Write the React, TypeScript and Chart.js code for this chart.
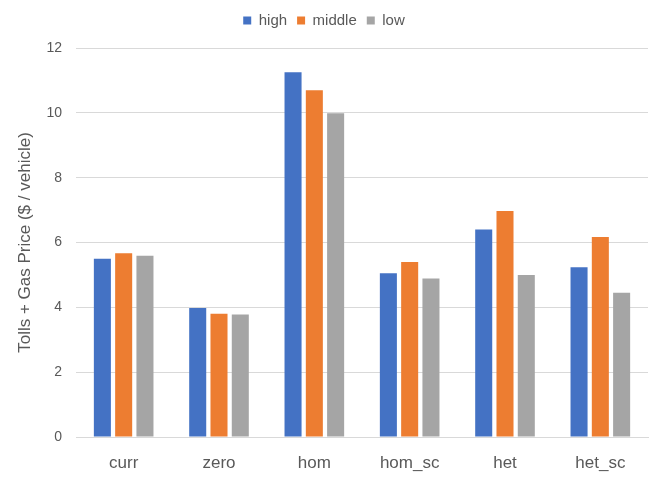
import { useEffect, useRef } from "react";
import { Chart, registerables } from "chart.js";

Chart.register(...registerables);

const categories = ["curr", "zero", "hom", "hom_sc", "het", "het_sc"];
const highValues = [5.5, 3.98, 11.25, 5.05, 6.4, 5.24];
const middleValues = [5.67, 3.8, 10.7, 5.4, 6.97, 6.17];
const lowValues = [5.59, 3.78, 9.99, 4.89, 5.0, 4.45];
const yTicks = [0, 2, 4, 6, 8, 10, 12];

const FONT = "'Liberation Sans', Arial, sans-serif";

// adds some room under the legend
const legendMargin = {
    id: "legendMargin",
    beforeInit(chart: any) {
        const origFit = chart.legend.fit;
        chart.legend.fit = function () {
            origFit.bind(chart.legend)();
            this.height += 10;
        };
    },
};

const App = () => {
    const chartRef = useRef<HTMLCanvasElement | null>(null);
    const chartInstanceRef = useRef<Chart | null>(null);

    useEffect(() => {
        if (!chartRef.current) return;
        const ctx = chartRef.current.getContext("2d");
        if (!ctx) return;
        if (chartInstanceRef.current) {
            chartInstanceRef.current.destroy();
        }

        const data = {
            labels: categories,
            datasets: [
                { label: "high", data: highValues, backgroundColor: "#4472C4" },
                { label: "middle", data: middleValues, backgroundColor: "#ED7D31" },
                { label: "low", data: lowValues, backgroundColor: "#A5A5A5" },
            ],
        };

        chartInstanceRef.current = new Chart(ctx, {
            type: "bar",
            data: data,
            plugins: [legendMargin],
            options: {
                animation: false,
                responsive: true,
                maintainAspectRatio: false,
                layout: {
                    padding: { top: 3, right: 16, bottom: 0, left: 0 },
                },
                datasets: {
                    bar: {
                        categoryPercentage: 0.67,
                        barPercentage: 0.8,
                    },
                },
                plugins: {
                    legend: {
                        position: "top",
                        labels: {
                            boxWidth: 8,
                            boxHeight: 8,
                            padding: 10,
                            color: "#595959",
                            font: { family: FONT, size: 15 },
                        },
                    },
                    tooltip: { enabled: false },
                },
                scales: {
                    x: {
                        grid: { display: false },
                        border: { display: true, color: "#d9d9d9", width: 1 },
                        ticks: {
                            color: "#595959",
                            padding: 8,
                            font: { family: FONT, size: 17 },
                        },
                        afterFit: (scale: any) => {
                            scale.height = 41;
                        },
                    },
                    y: {
                        min: 0,
                        max: 12,
                        afterBuildTicks: (scale: any) => {
                            scale.ticks = yTicks.map((v) => ({ value: v }));
                        },
                        grid: {
                            color: "#d9d9d9",
                            lineWidth: 1,
                            drawTicks: false,
                        },
                        border: { display: false },
                        ticks: {
                            color: "#595959",
                            padding: 14,
                            font: { family: FONT, size: 14 },
                        },
                        title: {
                            display: true,
                            text: "Tolls + Gas Price ($ / vehicle)",
                            color: "#595959",
                            padding: { top: 15, bottom: 0 },
                            font: { family: FONT, size: 17 },
                        },
                        afterFit: (scale: any) => {
                            scale.width = 76;
                        },
                    },
                },
            },
        });

        return () => {
            if (chartInstanceRef.current) {
                chartInstanceRef.current.destroy();
                chartInstanceRef.current = null;
            }
        };
    }, []);

    return (
        <div style={{ position: "fixed", left: 0, top: 0, width: 664, height: 478, background: "#ffffff" }}>
            <canvas ref={chartRef} />
        </div>
    );
};

export default App;
